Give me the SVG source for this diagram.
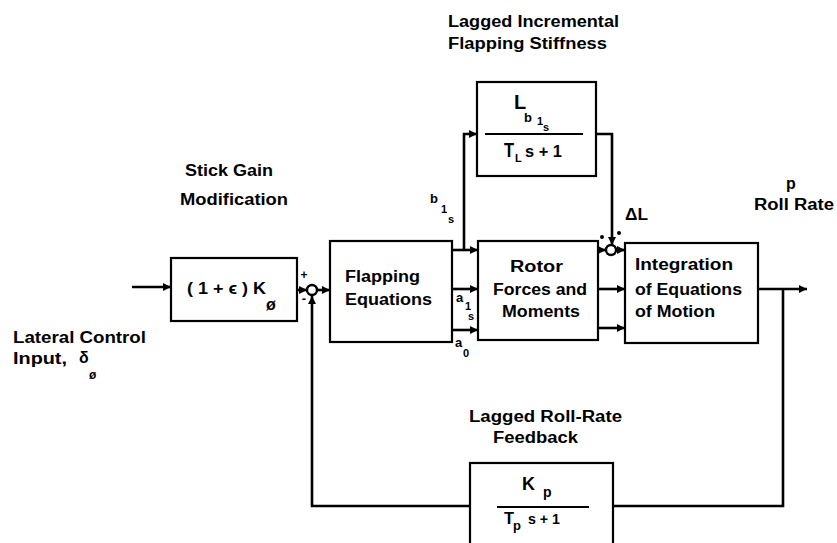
<svg xmlns="http://www.w3.org/2000/svg" width="837" height="543" viewBox="0 0 837 543">
<defs>
<marker id="ah" markerUnits="userSpaceOnUse" markerWidth="9" markerHeight="8" refX="8" refY="4" orient="auto">
<path d="M0,0 L8,4 L0,8 z" fill="#000"/>
</marker>
<style>
.box{fill:#fff;stroke:#000;stroke-width:2.2}
.ln{fill:none;stroke:#000;stroke-width:2.6}
.ar{fill:none;stroke:#000;stroke-width:2.6;marker-end:url(#ah)}
.sj{fill:#fff;stroke:#000;stroke-width:2.4}
text{font-family:"Liberation Sans","DejaVu Sans",sans-serif;font-weight:bold;fill:#000}
.lb{font-size:16px}
.m{font-size:20px}
.s{font-size:13px}
.ss{font-size:11px}
</style>
</defs>
<rect width="837" height="543" fill="#fff"/>

<g id="connectors">
<path class="ar" d="M132,287 H171"/>
<path class="ar" d="M297,290 H307"/>
<path class="ar" d="M317,290 H330"/>
<path class="ar" d="M452,250 H478"/>
<path class="ar" d="M452,289 H478"/>
<path class="ar" d="M452,330 H478"/>
<path class="ar" d="M464,250 V134 H477"/>
<path class="ar" d="M596,134 H612 V245"/>
<path class="ar" d="M598,250 H606"/>
<path class="ar" d="M616,250 H625"/>
<path class="ar" d="M598,289 H625"/>
<path class="ar" d="M598,328 H625"/>
<path class="ar" d="M758,289 H807"/>
<path class="ln" d="M783,289 V506 H613"/>
<path class="ar" d="M470,506 H312 V296"/>
</g>

<g id="sum1">
<circle class="sj" cx="312" cy="290" r="5"/>
<text x="304" y="279" font-size="12" text-anchor="middle">+</text>
<text x="304" y="303" font-size="13" text-anchor="middle">-</text>
</g>

<g id="sum2">
<circle class="sj" cx="611" cy="250" r="5"/>
<circle cx="602" cy="237" r="2" fill="#000"/>
<circle cx="619" cy="233" r="2" fill="#000"/>
<text class="lb" x="625" y="220" textLength="23" lengthAdjust="spacingAndGlyphs">ΔL</text>
</g>

<g id="title-top">
<text class="lb" x="448" y="27" textLength="171" lengthAdjust="spacingAndGlyphs">Lagged Incremental</text>
<text class="lb" x="448" y="49" textLength="159" lengthAdjust="spacingAndGlyphs">Flapping Stiffness</text>
</g>

<g id="lag-stiffness">
<rect class="box" x="477" y="82" width="119" height="94"/>
<line x1="485" y1="134" x2="583" y2="134" stroke="#000" stroke-width="2"/>
<text class="m" x="514" y="109">L</text>
<text class="s" x="524" y="122">b</text>
<text class="ss" x="537" y="125">1</text>
<text class="ss" x="543" y="131">s</text>
<text class="m" x="504" y="157" textLength="10" lengthAdjust="spacingAndGlyphs">T</text>
<text class="ss" x="515" y="162">L</text>
<text font-size="17" x="525" y="157" textLength="37" lengthAdjust="spacingAndGlyphs">s + 1</text>
</g>

<g id="stick-gain">
<text class="lb" x="185" y="176" textLength="88" lengthAdjust="spacingAndGlyphs">Stick Gain</text>
<text class="lb" x="180" y="205" textLength="108" lengthAdjust="spacingAndGlyphs">Modification</text>
<rect class="box" x="171" y="258" width="126" height="63"/>
<text font-size="17" x="187" y="294" textLength="79" lengthAdjust="spacingAndGlyphs">( 1 + ϵ ) K</text>
<text font-size="16" x="266" y="310">ø</text>
</g>

<g id="input-label">
<text class="lb" x="13" y="343" textLength="133" lengthAdjust="spacingAndGlyphs">Lateral Control</text>
<text class="lb" x="13" y="364" textLength="54" lengthAdjust="spacingAndGlyphs">Input,</text>
<text class="lb" x="79" y="363">δ</text>
<text font-size="12" x="89" y="379">ø</text>
</g>

<g id="flapping">
<rect class="box" x="330" y="241" width="122" height="101"/>
<text class="lb" x="345" y="282" textLength="75" lengthAdjust="spacingAndGlyphs">Flapping</text>
<text class="lb" x="345" y="305" textLength="87" lengthAdjust="spacingAndGlyphs">Equations</text>
</g>

<g id="signal-labels">
<text class="s" x="430" y="203">b</text>
<text class="ss" x="441" y="213">1</text>
<text class="ss" x="448" y="223">s</text>
<text class="s" x="456" y="302">a</text>
<text class="ss" x="465" y="310">1</text>
<text class="ss" x="468" y="320">s</text>
<text class="s" x="455" y="347">a</text>
<text class="ss" x="463" y="357">0</text>
</g>

<g id="rotor">
<rect class="box" x="478" y="241" width="120" height="99"/>
<text class="lb" x="510" y="272" textLength="53" lengthAdjust="spacingAndGlyphs">Rotor</text>
<text class="lb" x="493" y="295" textLength="94" lengthAdjust="spacingAndGlyphs">Forces and</text>
<text class="lb" x="502" y="317" textLength="78" lengthAdjust="spacingAndGlyphs">Moments</text>
</g>

<g id="integration">
<rect class="box" x="625" y="243" width="133" height="100"/>
<text class="lb" x="635" y="270" textLength="98" lengthAdjust="spacingAndGlyphs">Integration</text>
<text class="lb" x="635" y="295" textLength="107" lengthAdjust="spacingAndGlyphs">of Equations</text>
<text class="lb" x="635" y="317" textLength="80" lengthAdjust="spacingAndGlyphs">of Motion</text>
</g>

<g id="output-label">
<text class="lb" x="786" y="189">p</text>
<text class="lb" x="754" y="210" textLength="80" lengthAdjust="spacingAndGlyphs">Roll Rate</text>
</g>

<g id="feedback">
<text class="lb" x="469" y="422" textLength="153" lengthAdjust="spacingAndGlyphs">Lagged Roll-Rate</text>
<text class="lb" x="493" y="443" textLength="85" lengthAdjust="spacingAndGlyphs">Feedback</text>
<rect class="box" x="470" y="463" width="143" height="100"/>
<line x1="497" y1="507" x2="589" y2="507" stroke="#000" stroke-width="2"/>
<text font-size="18" x="522" y="490">K</text>
<text font-size="14" x="543" y="497">p</text>
<text font-size="16" x="504" y="524" textLength="10" lengthAdjust="spacingAndGlyphs">T</text>
<text font-size="13" x="513" y="530">p</text>
<text font-size="15" x="528" y="524" textLength="32" lengthAdjust="spacingAndGlyphs">s + 1</text>
</g>
</svg>
